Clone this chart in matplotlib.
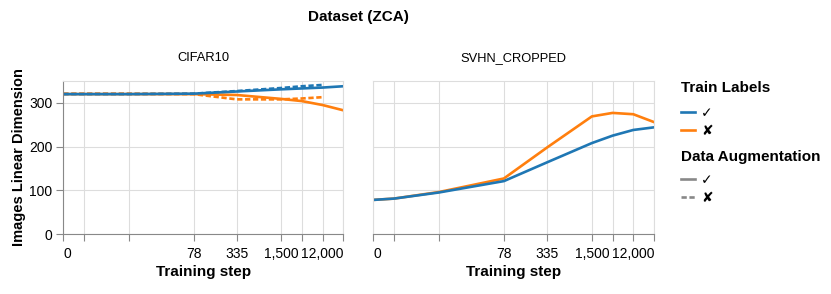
import numpy as np
import matplotlib.pyplot as plt
from matplotlib.lines import Line2D

plt.rcParams['font.family'] = ['Liberation Sans', 'DejaVu Sans']

# training steps (x) and the values
steps = [0, 1, 8, 78, 335, 1500, 3000, 6000, 12000]
steps_noaug = steps[:-1]
tick_labels = ['0', '', '', '78', '335', '1,500', '', '', '12,000']

cifar_lab_aug = [320, 320, 320, 321, 326, 331, 333, 335, 338]
cifar_nolab_aug = [320, 320, 320, 320, 318, 309, 304, 295, 283]
cifar_lab_noaug = [320, 320, 320, 321, 327, 334, 338, 341]
cifar_nolab_noaug = [321, 321, 321, 320, 308, 308, 310, 313]

svhn_lab_aug = [78, 81, 95, 121, 164, 208, 225, 238, 244]
svhn_nolab_aug = [78, 81, 96, 127, 198, 269, 277, 274, 256]

blue = '#1f77b4'
orange = '#ff7f0e'
grid_c = '#dddddd'
axis_c = '#888888'
lw = 1.9
dash = (0, (2.0, 1.0))

fig = plt.figure(figsize=(8.31, 2.94), dpi=100)
W, H = 831, 294


def make_ax(x0, x1):
    ax = fig.add_axes([x0 / W, 1 - 234 / H, (x1 - x0) / W, 153 / H])
    ax.set_xscale('function', functions=(np.log1p, np.expm1))
    ax.set_xlim(0, 12000)
    ax.set_ylim(0, 350)
    ax.set_xticks(steps)
    ax.set_xticklabels(tick_labels)
    labs = ax.get_xticklabels()
    labs[0].set_ha('left')
    labs[-1].set_ha('right')
    ax.xaxis.set_minor_locator(plt.NullLocator())
    ax.set_yticks([0, 100, 200, 300])
    ax.grid(True, color=grid_c, lw=0.8)
    ax.set_axisbelow(True)
    for s in ax.spines.values():
        s.set_color(grid_c)
        s.set_linewidth(0.8)
    ax.spines['bottom'].set_color(axis_c)
    ax.tick_params(axis='x', length=5, width=0.8, color=axis_c, pad=4.5, labelsize=10)
    ax.tick_params(axis='y', length=5, width=0.8, color=axis_c, pad=3, labelsize=10)
    ax.set_xlabel('Training step', fontsize=11, fontweight='bold', labelpad=3)
    return ax


ax1 = make_ax(63.3, 343.3)
ax2 = make_ax(373.3, 654)

ax1.spines['left'].set_color(axis_c)
ax2.tick_params(axis='y', left=False, labelleft=False)

# CIFAR10
ax1.plot(steps_noaug, cifar_nolab_noaug, color=orange, lw=lw, ls=dash)
ax1.plot(steps_noaug, cifar_lab_noaug, color=blue, lw=lw, ls=dash)
ax1.plot(steps, cifar_nolab_aug, color=orange, lw=lw)
ax1.plot(steps, cifar_lab_aug, color=blue, lw=lw)

# SVHN_CROPPED
ax2.plot(steps, svhn_nolab_aug, color=orange, lw=lw)
ax2.plot(steps, svhn_lab_aug, color=blue, lw=lw)

ax1.set_ylabel('Images Linear Dimension', fontsize=10.5, fontweight='bold')
ax1.yaxis.set_label_coords(-0.132, 0.5)

for ax, name in [(ax1, 'CIFAR10'), (ax2, 'SVHN_CROPPED')]:
    ax.text(0.5, 1 + 23 / 153, name, transform=ax.transAxes,
            ha='center', va='center', fontsize=9.3)

fig.text(358.5 / W, 1 - 17 / H, 'Dataset (ZCA)', ha='center', va='center',
         fontsize=11, fontweight='bold')

# legends
h1 = [Line2D([], [], color=blue, lw=lw), Line2D([], [], color=orange, lw=lw)]
h2 = [Line2D([], [], color='#888888', lw=lw),
      Line2D([], [], color='#888888', lw=lw, ls=dash)]
leg_kw = dict(loc='upper left', frameon=False, handlelength=1.0, handletextpad=0.45,
              fontsize=10, labelspacing=0.3, borderpad=0, borderaxespad=0)
fig.text(681 / W, 1 - 88 / H, 'Train Labels', ha='left', va='center',
         fontsize=11, fontweight='bold')
fig.text(681 / W, 1 - 157 / H, 'Data Augmentation', ha='left', va='center',
         fontsize=11, fontweight='bold')
fig.legend(h1, ['\u2713', '\u2718'], bbox_to_anchor=(681 / W, 1 - 106 / H), **leg_kw)
fig.legend(h2, ['\u2713', '\u2718'], bbox_to_anchor=(681 / W, 1 - 173 / H), **leg_kw)

fig.savefig('out.png', dpi=100)
